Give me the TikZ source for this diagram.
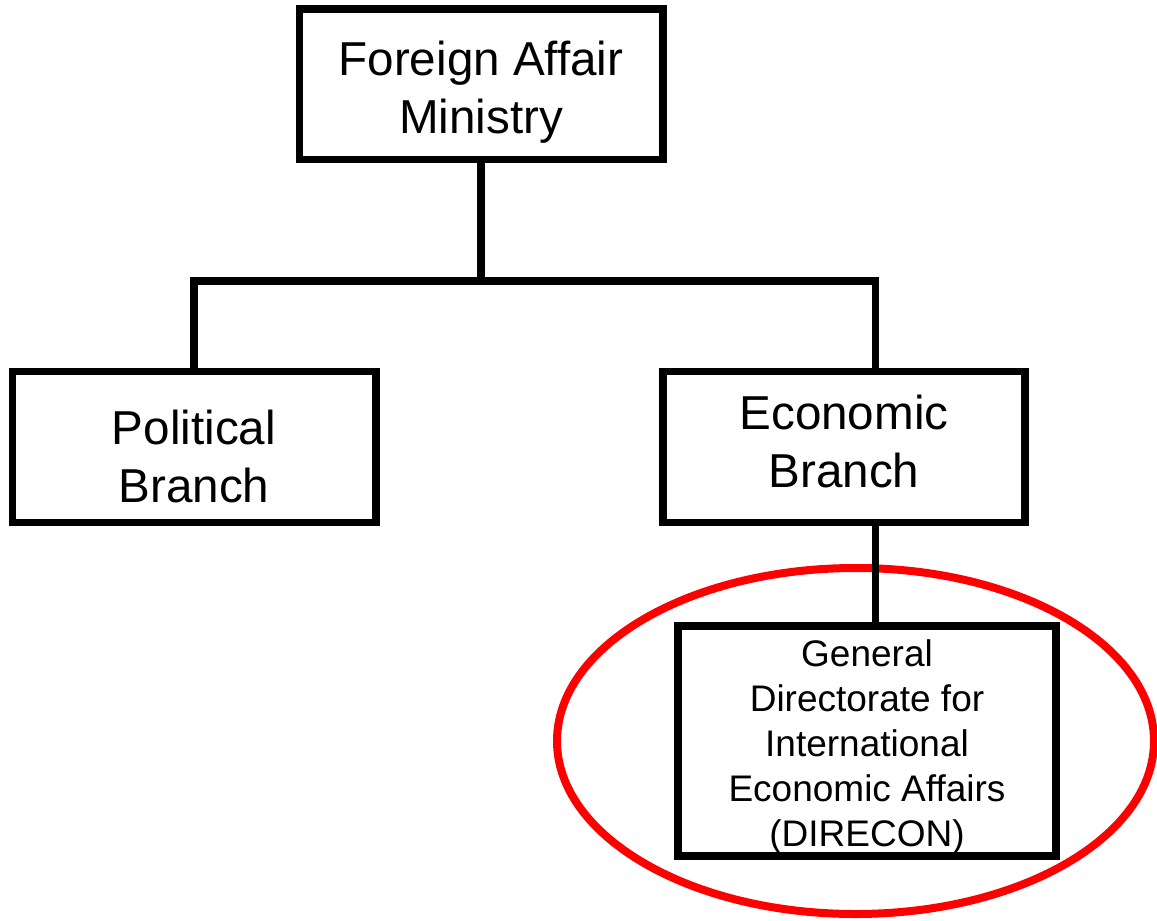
\documentclass[tikz,border=0pt]{standalone}
\usepackage{fontspec}
\setmainfont{Liberation Sans}
\usetikzlibrary{calc}

\tikzset{
	box/.style={draw, line width=3.75pt, inner sep=0pt, outer sep=0pt, align=center},
	wire/.style={line width=3.75pt},
	bigtext/.style={font=\fontsize{23.8}{29}\selectfont},
	smalltext/.style={font=\fontsize{18.5}{22.5}\selectfont}
}

\begin{document}
\begin{tikzpicture}[x=0.5pt, y=-0.5pt]
	\fill[white] (0, 0) rectangle (1157, 921);
	\useasboundingbox (0, 0) rectangle (1157, 921);
	\draw[color=red, line width=4pt] (855.5, 741) ellipse [x radius=149.25pt, y radius=86.5pt];
	\node[box, bigtext, minimum width=181.75pt, minimum height=75.25pt, text height=60pt, text depth=11pt] (minis) at (481, 84) {Foreign Affair\\Ministry};
	\node[box, bigtext, minimum width=181.75pt, minimum height=75.5pt, text height=65pt, text depth=10pt] (pol) at (194, 447) {Political\\Branch};
	\node[box, bigtext, minimum width=181pt, minimum height=75.5pt, text height=50pt, text depth=10pt] (eco) at (844, 447) {Economic\\Branch};
	\node[box, smalltext, minimum width=189pt, minimum height=113.25pt, text height=110pt, text depth=5pt] (direc) at (867, 741) {General\\Directorate for\\International\\Economic Affairs\\(DIRECON)};
	\coordinate (bus) at (481, 281);
	%\coordinate (tap) at (875.5, 447);
	\draw[wire]
	(minis.south) -- (bus)
	(pol.north) |- (bus) -| ([xshift=15.75pt]eco.north)
	([xshift=15.75pt]eco.south) -- ([xshift=15.75pt]eco.south |- direc.north)
	;
\end{tikzpicture}
\end{document}
